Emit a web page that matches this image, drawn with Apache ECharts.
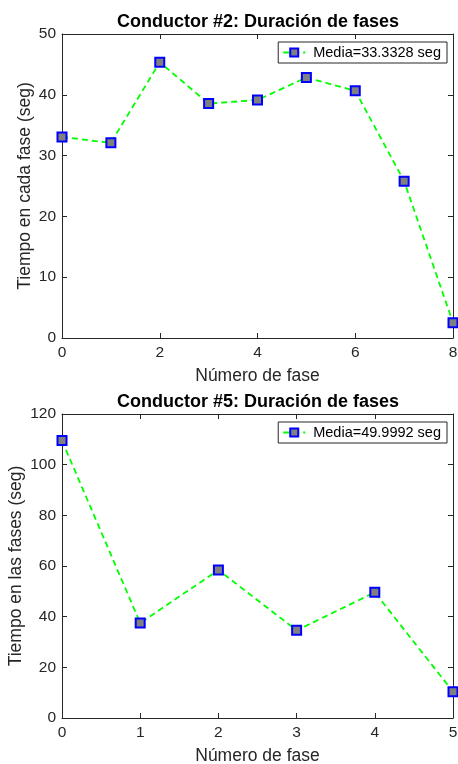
<!DOCTYPE html>
<html>
<head>
<meta charset="utf-8">
<script src="https://cdn.jsdelivr.net/npm/echarts@6/dist/echarts.min.js"></script>
<style>
  html, body { margin: 0; padding: 0; background: #fff; }
  #chart { width: 458px; height: 764px; }
</style>
</head>
<body>
<div id="chart"></div>
<script>
// datos
var fases1 = [0, 1, 2, 3, 4, 5, 6, 7, 8];
var tiempos1 = [33.05, 32.1, 45.35, 38.55, 39.15, 42.85, 40.65, 25.8, 2.5];
var fases2 = [0, 1, 2, 3, 4, 5];
var tiempos2 = [109.5, 37.5, 58.4, 34.6, 49.6, 10.4];
var titulos = ['Conductor #2: Duración de fases', 'Conductor #5: Duración de fases'];
var leyendas = ['Media=33.3328 seg', 'Media=49.9992 seg'];
var yNombres = ['Tiempo en cada fase (seg)', 'Tiempo en las fases (seg)'];

var txt = '#262626';
var font = 'Arial, "Liberation Sans", Helvetica, sans-serif';

function pares(xs, ys) {
  var out = [];
  for (var i = 0; i < xs.length; i++) out.push([xs[i], ys[i]]);
  return out;
}

function ejeX(grid, max, interval, top) {
  return {
    type: 'value', gridIndex: grid, min: 0, max: max, interval: interval,
    position: top ? 'top' : 'bottom',
    name: top ? '' : 'Número de fase', nameLocation: 'middle', nameGap: 29,
    nameMoveOverlap: false,
    nameTextStyle: { color: txt, fontSize: 17.5, fontFamily: font },
    axisLine: { show: true, onZero: false, lineStyle: { color: txt, width: 1 } },
    axisTick: { show: true, inside: true, length: 5, lineStyle: { color: txt } },
    axisLabel: { show: !top, color: txt, fontSize: 15.5, fontFamily: font, margin: 7 },
    splitLine: { show: false }
  };
}

function ejeY(grid, max, interval, right, nombre, gap) {
  return {
    type: 'value', gridIndex: grid, min: 0, max: max, interval: interval,
    position: right ? 'right' : 'left',
    name: right ? '' : nombre, nameLocation: 'middle', nameGap: gap || 0,
    nameMoveOverlap: false,
    nameTextStyle: { color: txt, fontSize: 17.5, fontFamily: font },
    axisLine: { show: true, onZero: false, lineStyle: { color: txt, width: 1 } },
    axisTick: { show: true, inside: true, length: 5, lineStyle: { color: txt } },
    axisLabel: { show: !right, color: txt, fontSize: 15.5, fontFamily: font, margin: 6 },
    splitLine: { show: false }
  };
}

function serie(idx, nombre, datos) {
  return {
    type: 'line', name: nombre, xAxisIndex: idx * 2, yAxisIndex: idx * 2,
    data: datos,
    symbol: 'rect', symbolSize: 9,
    itemStyle: { color: '#808080', borderColor: '#0000ff', borderWidth: 2 },
    lineStyle: { color: '#00ff00', width: 1.8, type: [6, 4] },
    emphasis: { disabled: true },
    animation: false
  };
}

function leyenda(nombre, top) {
  return {
    data: [nombre], right: 11, top: top, orient: 'vertical',
    backgroundColor: '#fff', borderColor: txt, borderWidth: 1, padding: [3, 6, 3, 4],
    itemWidth: 22, itemHeight: 10,
    textStyle: { color: '#000', fontSize: 14.5, fontFamily: font, padding: [0, 0, 0, 3] }
  };
}

var chart = echarts.init(document.getElementById('chart'), null, { renderer: 'canvas' });

var option = {
  backgroundColor: '#fff',
  animation: false,
  title: [
    { text: titulos[0], left: 253, top: 8, textAlign: 'center',
      textStyle: { color: '#000', fontSize: 18, fontWeight: 'bold', fontFamily: font } },
    { text: titulos[1], left: 253, top: 388, textAlign: 'center',
      textStyle: { color: '#000', fontSize: 18, fontWeight: 'bold', fontFamily: font } }
  ],
  legend: [leyenda(leyendas[0], 42), leyenda(leyendas[1], 422)],
  grid: [
    { left: 62, right: 5, top: 34, height: 304, outerBoundsMode: 'none', containLabel: false },
    { left: 62, right: 5, top: 414, height: 304, outerBoundsMode: 'none', containLabel: false }
  ],
  xAxis: [
    ejeX(0, 8, 2, false), ejeX(0, 8, 2, true),
    ejeX(1, 5, 1, false), ejeX(1, 5, 1, true)
  ],
  yAxis: [
    ejeY(0, 50, 10, false, yNombres[0], 28), ejeY(0, 50, 10, true),
    ejeY(1, 120, 20, false, yNombres[1], 37), ejeY(1, 120, 20, true)
  ],
  series: [
    serie(0, leyendas[0], pares(fases1, tiempos1)),
    serie(1, leyendas[1], pares(fases2, tiempos2))
  ]
};

chart.setOption(option);
</script>
</body>
</html>
